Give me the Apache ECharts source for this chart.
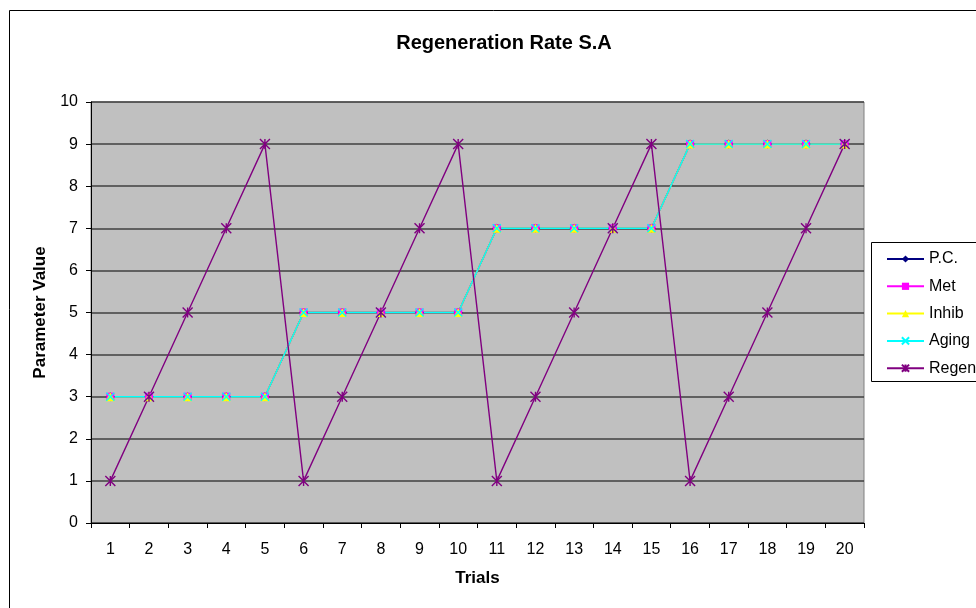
<!DOCTYPE html>
<html><head><meta charset="utf-8">
<script src="https://cdn.jsdelivr.net/npm/echarts@6/dist/echarts.min.js"></script>
<style>html,body{margin:0;padding:0;background:#fff}#c{width:976px;height:608px}</style>
</head><body><div id="c"></div>
<script>
const trials = ['1','2','3','4','5','6','7','8','9','10','11','12','13','14','15','16','17','18','19','20'];
const pc    = [3,3,3,3,3,5,5,5,5,5,7,7,7,7,7,9,9,9,9,9];
const met   = [3,3,3,3,3,5,5,5,5,5,7,7,7,7,7,9,9,9,9,9];
const inhib = [3,3,3,3,3,5,5,5,5,5,7,7,7,7,7,9,9,9,9,9];
const aging = [3,3,3,3,3,5,5,5,5,5,7,7,7,7,7,9,9,9,9,9];
const regen = [1,3,5,7,9,1,3,5,7,9,1,3,5,7,9,1,3,5,7,9];

const font = 'Liberation Sans, Arial, sans-serif';
const chart = echarts.init(document.getElementById('c'), null, {renderer:'canvas'});
const xPath = 'path://M0,0L10,10M10,0L0,10';
const starPath = 'path://M0,0L10,10M10,0L0,10M5,0L5,10';
function s(name, data, color, symbol, size, strokeOnly){
  return {
    name, type:'line', data, symbol, symbolSize:size, showSymbol:true,
    lineStyle:{color, width:1.4},
    itemStyle: strokeOnly ? {color:'rgba(0,0,0,0)', borderColor:color, borderWidth:1.4} : {color, borderColor:color, borderWidth:0},
    emphasis:{disabled:true}, animation:false
  };
}
chart.setOption({
  animation:false,
  title:{text:'Regeneration Rate S.A', left:499, top:28, textAlign:'center',
    textStyle:{fontFamily:font, fontSize:20, fontWeight:'bold', color:'#000'}},
  graphic:[
    {type:'rect', shape:{x:9.5,y:10.5,width:1200,height:1200}, style:{fill:'none', stroke:'#000', lineWidth:1}, z:-1},
    {type:'rect', shape:{x:871.5,y:242.5,width:200,height:139}, style:{fill:'#fff', stroke:'#000', lineWidth:1}, z:0}
  ],
  legend:{
    orient:'vertical', left:881, top:246, itemWidth:37, itemHeight:9, itemGap:11.3,
    textStyle:{fontFamily:font, fontSize:16, color:'#000'},
    data:['P.C.','Met','Inhib','Aging','Regen'], selectedMode:false, z:5
  },
  grid:{left:91, right:112, top:102, bottom:85, show:true, backgroundColor:'#C0C0C0', borderColor:'#808080', borderWidth:1},
  xAxis:{type:'category', data:trials, boundaryGap:true, name:'Trials', nameLocation:'middle', nameGap:47,
    nameTextStyle:{fontFamily:font, fontSize:17, fontWeight:'bold', color:'#000'},
    axisLine:{lineStyle:{color:'#000', width:1}}, axisTick:{show:true, length:5, lineStyle:{color:'#000'}, alignWithLabel:false},
    axisLabel:{fontFamily:font, fontSize:16, color:'#000', margin:19}, splitLine:{show:false}},
  yAxis:{type:'value', min:0, max:10, interval:1, name:'Parameter Value', nameLocation:'middle', nameGap:42,
    nameTextStyle:{fontFamily:font, fontSize:17, fontWeight:'bold', color:'#000'},
    axisLine:{show:true, lineStyle:{color:'#000', width:1}}, axisTick:{show:true, length:5, lineStyle:{color:'#000'}},
    axisLabel:{fontFamily:font, fontSize:16, color:'#000', margin:13},
    splitLine:{show:true, lineStyle:{color:'#404040', width:1.5}}},
  series:[
    s('P.C.', pc, '#000080', 'diamond', 9, false),
    s('Met', met, '#FF00FF', 'rect', 8, false),
    s('Inhib', inhib, '#FFFF00', 'triangle', 9, false),
    s('Aging', aging, '#00FFFF', xPath, 8, true),
    s('Regen', regen, '#800080', starPath, 10, true)
  ]
});
</script></body></html>
